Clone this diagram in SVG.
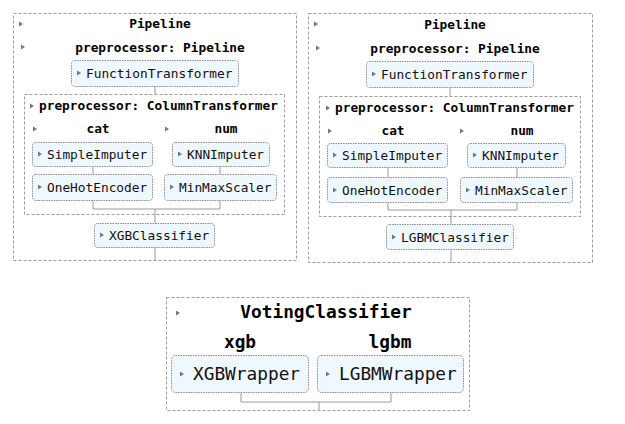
<svg xmlns="http://www.w3.org/2000/svg" width="625" height="424" viewBox="0 0 625 424">
<style>
.bg{fill:#fff}
.outer{fill:none;stroke:#9a9a9a;stroke-width:1;stroke-dasharray:3,2}
.node{fill:#f0f8ff;stroke:#8a8a8a;stroke-width:1;stroke-dasharray:1.5,1}
.c{fill:none;stroke:#999;stroke-width:1}
.t{font-family:"DejaVu Sans Mono",monospace;font-size:12.8px;fill:#111}
.b{font-family:"DejaVu Sans Mono",monospace;font-size:12.8px;font-weight:bold;fill:#000}
.tl{font-family:"DejaVu Sans Mono",monospace;font-size:17.8px;fill:#111}
.bl{font-family:"DejaVu Sans Mono",monospace;font-size:17.8px;font-weight:bold;fill:#000}
.tri{fill:#777}
</style>
<defs>
<path id="tri" d="M0,-2.5 L4,0 L0,2.5Z" class="tri"/>
</defs>
<rect class="bg" width="625" height="424"/>
<g id="connectors">
<path class="c" d="M155,87V94M93,167V174M220,167V174M93,201V209H220V201M155,209V223M155,248V260"/>
<path class="c" d="M450,88V96M388,168V177M517,168V177M388,203V210H517V203M451,210V224M451,250V263"/>
<path class="c" d="M241,393V402H391V393M319,402V411"/>
</g>
<g id="pipeline1">
<rect class="outer" x="13.5" y="13.5" width="283" height="247"/>
<use href="#tri" x="19" y="24"/>
<text class="b" x="160" y="28" text-anchor="middle">Pipeline</text>
</g>
<g id="preproc1">
<use href="#tri" x="21" y="47"/>
<text class="b" x="160" y="52" text-anchor="middle">preprocessor: Pipeline</text>
</g>
<g id="ft1">
<rect class="node" x="71.5" y="60.5" width="167" height="26" rx="3"/>
<use href="#tri" x="77" y="73"/>
<text class="t" x="86" y="78">FunctionTransformer</text>
</g>
<g id="ct1">
<rect class="outer" x="24.5" y="94.5" width="260" height="120"/>
<use href="#tri" x="30" y="106"/>
<text class="b" x="39" y="110">preprocessor: ColumnTransformer</text>
<use href="#tri" x="33" y="129"/>
<text class="b" x="98" y="133" text-anchor="middle">cat</text>
<use href="#tri" x="165" y="129"/>
<text class="b" x="226" y="133" text-anchor="middle">num</text>
</g>
<g id="si1">
<rect class="node" x="32.5" y="142.5" width="120" height="24" rx="3"/>
<use href="#tri" x="38" y="154"/>
<text class="t" x="47" y="159">SimpleImputer</text>
</g>
<g id="knn1">
<rect class="node" x="172.5" y="142.5" width="97" height="24" rx="3"/>
<use href="#tri" x="178" y="154"/>
<text class="t" x="187" y="159">KNNImputer</text>
</g>
<g id="ohe1">
<rect class="node" x="32.5" y="174.5" width="120" height="26" rx="3"/>
<use href="#tri" x="38" y="187"/>
<text class="t" x="47" y="192">OneHotEncoder</text>
</g>
<g id="mms1">
<rect class="node" x="164.5" y="174.5" width="112" height="26" rx="3"/>
<use href="#tri" x="170" y="187"/>
<text class="t" x="179" y="192">MinMaxScaler</text>
</g>
<g id="xgb1">
<rect class="node" x="94.5" y="223.5" width="120" height="24" rx="3"/>
<use href="#tri" x="100" y="235"/>
<text class="t" x="109" y="240">XGBClassifier</text>
</g>
<g id="pipeline2">
<rect class="outer" x="308.5" y="13.5" width="284" height="249"/>
<use href="#tri" x="314" y="24"/>
<text class="b" x="455" y="29" text-anchor="middle">Pipeline</text>
</g>
<g id="preproc2">
<use href="#tri" x="316" y="48"/>
<text class="b" x="455" y="53" text-anchor="middle">preprocessor: Pipeline</text>
</g>
<g id="ft2">
<rect class="node" x="366.5" y="61.5" width="167" height="26" rx="3"/>
<use href="#tri" x="372" y="74"/>
<text class="t" x="381" y="79">FunctionTransformer</text>
</g>
<g id="ct2">
<rect class="outer" x="319.5" y="96.5" width="261" height="120"/>
<use href="#tri" x="326" y="108"/>
<text class="b" x="335" y="112">preprocessor: ColumnTransformer</text>
<use href="#tri" x="328" y="131"/>
<text class="b" x="393" y="135" text-anchor="middle">cat</text>
<use href="#tri" x="460" y="131"/>
<text class="b" x="522" y="135" text-anchor="middle">num</text>
</g>
<g id="si2">
<rect class="node" x="327.5" y="143.5" width="120" height="24" rx="3"/>
<use href="#tri" x="333" y="155"/>
<text class="t" x="342" y="160">SimpleImputer</text>
</g>
<g id="knn2">
<rect class="node" x="467.5" y="143.5" width="98" height="24" rx="3"/>
<use href="#tri" x="473" y="155"/>
<text class="t" x="482" y="160">KNNImputer</text>
</g>
<g id="ohe2">
<rect class="node" x="327.5" y="177.5" width="120" height="25" rx="3"/>
<use href="#tri" x="333" y="190"/>
<text class="t" x="342" y="195">OneHotEncoder</text>
</g>
<g id="mms2">
<rect class="node" x="460.5" y="177.5" width="112" height="25" rx="3"/>
<use href="#tri" x="466" y="190"/>
<text class="t" x="475" y="195">MinMaxScaler</text>
</g>
<g id="lgbm2">
<rect class="node" x="386.5" y="224.5" width="127" height="25" rx="3"/>
<use href="#tri" x="392" y="237"/>
<text class="t" x="401" y="242">LGBMClassifier</text>
</g>
<g id="voting">
<rect class="outer" x="166.5" y="297.5" width="303" height="113"/>
<use href="#tri" x="176" y="313"/>
<text class="bl" x="326" y="318" text-anchor="middle">VotingClassifier</text>
<text class="bl" x="240" y="348" text-anchor="middle">xgb</text>
<text class="bl" x="390" y="348" text-anchor="middle">lgbm</text>
</g>
<g id="xgbw">
<rect class="node" x="171.5" y="355.5" width="137" height="37" rx="4"/>
<use href="#tri" x="180" y="374"/>
<text class="tl" x="193" y="380">XGBWrapper</text>
</g>
<g id="lgbmw">
<rect class="node" x="317.5" y="355.5" width="146" height="37" rx="4"/>
<use href="#tri" x="326" y="374"/>
<text class="tl" x="339" y="380">LGBMWrapper</text>
</g>
</svg>
